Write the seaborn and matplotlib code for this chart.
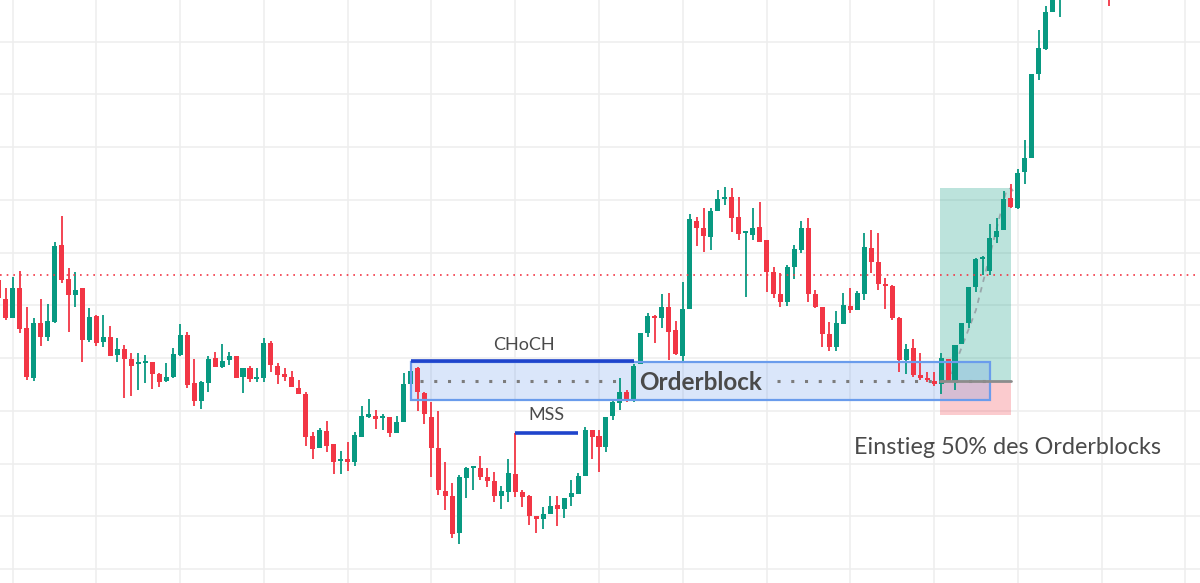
import numpy as np
import pandas as pd
import matplotlib
matplotlib.use("Agg")
import matplotlib.pyplot as plt
import seaborn as sns
from matplotlib.patches import Rectangle

# ---------------- data (price units) ----------------
opens = [32.0, 30.1, 28.2, 31.2, 27.2, 22.2, 27.7, 26.3, 27.8, 35.5,
         32.1, 30.5, 31.2, 26.0, 28.4, 25.8, 26.3, 24.5, 25.1, 24.1,
         23.6, 23.7, 23.8, 22.6, 21.9, 22.3, 24.5, 26.5, 21.7, 19.9,
         21.7, 24.2, 23.3, 24.0, 24.4, 22.3, 23.2, 22.1, 22.2, 25.7,
         23.4, 22.6, 22.3, 21.2, 20.6, 16.4, 15.2, 16.9, 15.6, 13.9,
         14.1, 13.8, 16.3, 18.3, 18.4, 18.2, 18.3, 16.7, 17.8, 21.6,
         23.2, 20.7, 18.3, 15.2, 10.9, 10.4, 6.7, 12.2, 13.2, 13.2,
         12.3, 11.9, 10.4, 10.8, 12.6, 10.8, 10.4, 8.4, 8.1, 8.6,
         9.5, 9.1, 10.3, 10.6, 12.4, 17.0, 16.4, 15.3, 18.4, 19.7,
         20.8, 19.9, 23.6, 26.7, 28.4, 28.2, 29.3, 27.0, 24.4, 29.1,
         37.9, 37.2, 36.3, 38.9, 40.1, 40.3, 38.3, 36.7, 36.5, 37.3,
         36.0, 32.8, 30.6, 29.8, 33.3, 35.0, 37.2, 30.6, 29.3, 26.6,
         25.3, 27.6, 29.4, 29.0, 30.6, 35.2, 33.8, 31.6, 31.4, 28.2,
         24.0, 25.2, 22.5, 22.2, 21.9, 21.6, 24.1, 21.8, 25.6, 27.7,
         31.3, 34.1, 32.9, 36.3, 37.0, 40.2, 39.2, 42.8, 44.2, 52.6,
         55.1, 58.8, 60.5, 63.0, 65.5, 64.5, 67.0, 68.5, 67.5, 64.0]
closes = [30.2, 28.2, 31.2, 27.1, 22.3, 27.7, 26.3, 27.9, 35.4, 32.0,
          30.5, 31.0, 26.0, 28.3, 25.7, 26.3, 24.4, 25.1, 24.1, 23.4,
          23.7, 23.8, 22.6, 21.8, 22.3, 24.6, 26.5, 21.5, 19.9, 21.8,
          24.1, 23.3, 23.9, 24.4, 22.2, 23.2, 22.1, 22.3, 25.7, 23.5,
          22.5, 22.3, 21.3, 20.6, 16.3, 15.1, 17.0, 15.4, 13.8, 14.1,
          13.8, 16.5, 18.4, 18.6, 18.1, 18.3, 16.7, 17.8, 21.6, 22.9,
          20.8, 18.6, 15.2, 11.0, 10.4, 6.6, 12.3, 13.2, 13.3, 12.3,
          11.9, 10.4, 10.9, 12.7, 10.8, 10.3, 8.4, 8.1, 8.6, 9.4,
          9.1, 10.2, 10.7, 12.4, 17.0, 16.3, 15.3, 18.3, 19.8, 20.8,
          20.0, 23.4, 26.7, 28.4, 28.2, 29.3, 26.8, 24.6, 29.1, 38.1,
          37.2, 36.4, 38.9, 40.1, 40.2, 38.2, 36.6, 36.8, 37.2, 35.8,
          32.8, 30.6, 29.8, 33.3, 35.1, 37.2, 30.6, 29.3, 26.6, 25.3,
          27.7, 29.5, 29.0, 30.7, 35.3, 33.8, 31.6, 31.4, 28.2, 24.0,
          25.1, 22.5, 22.2, 22.0, 21.6, 24.2, 21.8, 25.5, 27.7, 31.3,
          34.1, 34.2, 36.2, 36.9, 40.1, 39.3, 42.7, 44.2, 52.6, 55.2,
          58.8, 61.0, 63.0, 65.5, 64.5, 67.0, 68.5, 67.5, 66.0, 62.0]
highs = [32.5, 31.2, 32.3, 32.9, 29.3, 28.2, 30.1, 29.6, 35.8, 38.4,
         33.2, 32.8, 31.2, 29.2, 28.5, 28.5, 27.4, 26.2, 25.5, 24.7,
         24.7, 24.5, 23.8, 22.7, 23.7, 25.2, 27.6, 26.8, 24.1, 21.9,
         24.4, 24.8, 25.6, 24.8, 24.4, 23.2, 23.4, 23.2, 26.2, 25.9,
         23.7, 23.2, 22.9, 22.0, 20.8, 16.8, 17.2, 17.9, 15.6, 14.9,
         15.8, 16.8, 19.4, 20.1, 19.0, 18.6, 18.3, 18.4, 22.7, 23.9,
         23.3, 20.8, 19.8, 18.9, 13.8, 11.7, 12.5, 13.3, 13.3, 14.4,
         13.2, 12.8, 11.4, 14.1, 16.7, 11.0, 10.5, 8.4, 9.3, 10.4,
         10.4, 10.2, 12.0, 12.7, 17.3, 17.0, 17.0, 18.3, 20.1, 22.2,
         21.0, 23.6, 26.7, 28.7, 28.5, 30.6, 30.7, 27.9, 31.8, 38.6,
         38.3, 39.2, 39.2, 41.0, 41.3, 41.2, 40.3, 36.9, 39.2, 39.8,
         36.0, 33.3, 32.7, 33.5, 35.5, 37.9, 38.2, 31.0, 29.3, 27.8,
         28.9, 30.7, 31.2, 30.9, 36.7, 37.0, 36.7, 32.2, 31.5, 28.3,
         25.6, 26.1, 24.7, 22.8, 22.8, 24.7, 24.1, 25.5, 27.7, 31.3,
         34.2, 34.4, 37.6, 38.2, 40.9, 41.6, 43.1, 46.0, 52.6, 57.0,
         59.4, 62.0, 64.0, 66.0, 67.0, 68.0, 69.5, 70.0, 69.0, 66.0]
lows = [30.0, 28.0, 28.2, 26.7, 22.0, 21.9, 25.4, 25.9, 27.7, 31.7,
        26.8, 29.3, 23.8, 25.8, 25.4, 25.3, 24.4, 23.8, 20.2, 20.4,
        21.0, 21.7, 21.1, 21.3, 21.8, 22.2, 24.4, 21.2, 19.4, 19.1,
        20.8, 23.3, 23.2, 23.5, 22.2, 20.7, 21.8, 21.8, 21.8, 22.8,
        21.6, 21.9, 21.3, 20.6, 15.4, 14.1, 15.2, 14.8, 12.6, 12.6,
        12.9, 13.4, 16.3, 18.2, 17.1, 17.0, 16.3, 16.7, 17.8, 20.1,
        18.9, 17.6, 12.3, 10.5, 9.0, 6.2, 5.6, 10.2, 11.0, 12.0,
        11.3, 9.8, 9.1, 9.8, 10.3, 9.3, 7.5, 6.7, 7.1, 8.6,
        7.4, 8.2, 9.4, 10.6, 12.4, 14.1, 12.8, 14.8, 18.0, 19.0,
        19.8, 19.8, 23.6, 26.3, 25.7, 27.2, 24.0, 24.5, 23.8, 29.1,
        35.4, 34.8, 35.0, 38.9, 39.5, 36.8, 36.0, 30.3, 36.0, 35.8,
        30.8, 30.2, 29.3, 29.4, 32.1, 34.7, 29.8, 29.2, 25.3, 24.9,
        24.9, 27.6, 28.7, 29.0, 30.0, 32.7, 31.0, 29.1, 28.0, 22.8,
        22.6, 22.3, 22.0, 21.8, 21.4, 20.6, 21.8, 21.0, 25.6, 27.2,
        30.8, 32.5, 32.5, 35.7, 37.0, 39.2, 39.1, 41.6, 44.2, 52.0,
        55.0, 58.8, 58.3, 62.0, 63.5, 63.8, 66.0, 66.5, 63.0, 59.4]

# annotation levels / spans (candle index, price)
ref_level = 32.5            # red dotted line
choch_level, choch_span = 23.9, (59, 91)
mss_level, mss_span = 16.7, (74, 83)
ob_top, ob_bottom, ob_span = 23.8, 20.0, (59, 142)
entry, target, stop, pos_span = 21.9, 41.2, 18.5, (134.9, 145.0)
path_x = [136.5, 140.0, 144.3, 145.0, 145.6]
path_y = [22.6, 29.0, 40.8, 41.2, 40.6]

labels = {"choch": "CHoCH", "mss": "MSS", "ob": "Orderblock",
          "entry": "Einstieg 50% des Orderblocks"}

# ---------------- styling ----------------
sns.set_theme(style="white")
plt.rcParams['font.family'] = ['Lato', 'DejaVu Sans']

UP = '#089981'
DOWN = '#f23645'
TXT = '#4a4a4a'

df = pd.DataFrame({"open": opens, "high": highs, "low": lows, "close": closes})
df["idx"] = np.arange(len(df))
df["up"] = df["close"] >= df["open"]

fig = plt.figure(figsize=(12, 5.83), dpi=100)
ax = fig.add_axes([0, 0, 1, 1])

ax.set_xlim(0.186, 172.1)
ax.set_ylim(1.7, 60.0)

# grid
for gx in np.arange(2, 175, 12):
    ax.axvline(gx, color='#eeeeee', lw=1.1, zorder=0)
for gy in 55.83 - 5.275 * np.arange(0, 11):
    ax.axhline(gy, color='#eeeeee', lw=1.1, zorder=0)

# position boxes (behind candles)
ax.add_patch(Rectangle((pos_span[0], entry), pos_span[1] - pos_span[0], target - entry,
                       facecolor=UP, alpha=0.27, lw=0, zorder=1))
ax.add_patch(Rectangle((pos_span[0], stop), pos_span[1] - pos_span[0], entry - stop,
                       facecolor=DOWN, alpha=0.26, lw=0, zorder=1))

# order block
ax.add_patch(Rectangle((ob_span[0], ob_bottom), ob_span[1] - ob_span[0], ob_top - ob_bottom,
                       facecolor='#4a86e8', alpha=0.2, edgecolor='none', zorder=1.5))
ax.add_patch(Rectangle((ob_span[0], ob_bottom), ob_span[1] - ob_span[0], ob_top - ob_bottom,
                       facecolor='none', edgecolor='#6a9cec', lw=1.6, zorder=4))

# gray dashed path inside position
sns.lineplot(x=path_x, y=path_y, ax=ax, color='#8a8d96', lw=1.3, dashes=(3, 3),
             sort=False, zorder=1.8, legend=False, alpha=0.7)

# candles
colors = np.where(df["up"], UP, DOWN)
ax.vlines(df["idx"], df["low"], df["high"], colors=colors, lw=1.3, zorder=2)
body_lo = np.minimum(df["open"], df["close"])
body_h = np.maximum(np.abs(df["close"] - df["open"]), 0.18)
ax.bar(df["idx"], body_h, bottom=body_lo, width=0.72, color=colors, lw=0, zorder=3)

# red dotted reference line
ax.axhline(ref_level, color=DOWN, lw=1.2, ls=(0, (1, 3)), zorder=5)

# entry line of position
ax.plot(pos_span, [entry, entry], color='#8c8c8c', lw=2, zorder=4.5)

# OB midline dotted
ax.plot([60.3, 89.0], [entry, entry], color='#7c7c7c', lw=2.2, ls=(0, (1, 3.5)), zorder=4.2)
ax.plot([111.5, 135.0], [entry, entry], color='#7c7c7c', lw=2.2, ls=(0, (1, 3.5)), zorder=4.2)
ax.plot([135.0, 141.5], [entry, entry], color='#7c7c7c', lw=2.2, ls=(0, (1, 3.5)), zorder=4.2)

# CHoCH / MSS lines
ax.plot(choch_span, [choch_level, choch_level], color='#1f44cc', lw=2.6, zorder=6,
        solid_capstyle='butt')
ax.plot(mss_span, [mss_level, mss_level], color='#1f44cc', lw=2.6, zorder=6,
        solid_capstyle='butt')

ax.text(75.3, 25.5, labels["choch"], ha='center', va='center', fontsize=13, color=TXT, zorder=7)
ax.text(78.5, 18.5, labels["mss"], ha='center', va='center', fontsize=13, color=TXT, zorder=7)
ax.text(100.6, 21.8, labels["ob"], ha='center', va='center', fontsize=17.5, fontweight='bold',
        color=TXT, zorder=7)
ax.text(144.5, 15.3, labels["entry"], ha='center', va='center', fontsize=16.8, color=TXT, zorder=7)

for s in ax.spines.values():
    s.set_visible(False)
ax.tick_params(left=False, bottom=False, labelleft=False, labelbottom=False)
ax.set_xlabel("")
ax.set_ylabel("")

fig.savefig("out.png", dpi=100)
